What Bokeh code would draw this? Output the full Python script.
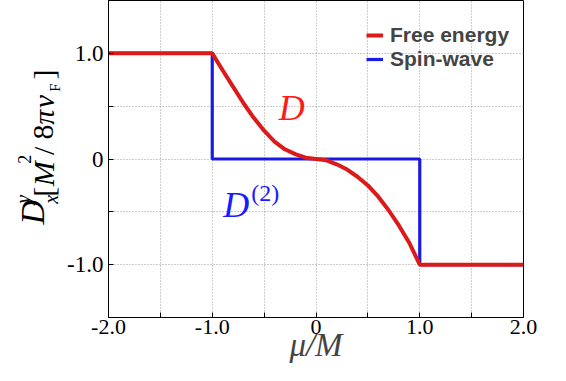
from bokeh.plotting import figure
from bokeh.models import Range1d, FixedTicker, Label, Legend, LegendItem
from bokeh.layouts import row
from bokeh.embed import file_html
from bokeh.resources import INLINE

# Free-energy result D (red)
mu_fe = [-2.0, -1.0, -0.9, -0.8, -0.7, -0.6, -0.5, -0.4, -0.3, -0.2, -0.1, 0.0,
         0.1, 0.2, 0.3, 0.4, 0.5, 0.6, 0.7, 0.8, 0.9, 1.0, 2.0]
d_fe = [1.0, 1.0, 0.84, 0.685, 0.53, 0.39, 0.268, 0.165, 0.092, 0.046, 0.012, 0.0,
        -0.012, -0.05, -0.10, -0.168, -0.25, -0.357, -0.485, -0.631, -0.795, -1.0, -1.0]

# Spin-wave result D^(2) (blue)
mu_sw = [-2.0, -1.0, -1.0, 1.0, 1.0, 2.0]
d_sw = [1.0, 1.0, 0.0, 0.0, -1.0, -1.0]

x_ticks = [-2.0, -1.5, -1.0, -0.5, 0.0, 0.5, 1.0, 1.5, 2.0]
x_tick_labels = ["-2.0", "", "-1.0", "", "0", "", "1.0", "", "2.0"]
y_ticks = [-1.5, -1.0, -0.5, 0.0, 0.5, 1.0, 1.5]
y_tick_labels = ["", "-1.0", "", "0", "", "1.0", ""]

series_names = ["Free energy", "Spin-wave"]

RED = "#dc1a1a"
BLUE = "#1a1ae6"
SERIF = "Liberation Serif"

# ---------------- main plot ----------------
p = figure(width=486, height=365, x_range=Range1d(-2.0, 2.0), y_range=Range1d(-1.5, 1.5),
           output_backend="svg", toolbar_location=None,
           min_border_left=43, min_border_right=27, min_border_top=0, min_border_bottom=0)
p.background_fill_color = "white"
p.border_fill_color = "white"
p.outline_line_color = "black"
p.outline_line_width = 1

for ax in p.axis:
    ax.major_tick_in = 5
    ax.major_tick_out = 0
    ax.minor_tick_line_color = None
    ax.axis_line_color = "black"
    ax.major_tick_line_color = "black"
    ax.major_label_text_font = SERIF
    ax.major_label_text_color = "black"

p.xaxis.major_label_text_font_size = "22px"
p.yaxis.major_label_text_font_size = "23px"
p.xaxis.ticker = FixedTicker(ticks=x_ticks)
p.xaxis.major_label_overrides = {t: l for t, l in zip(x_ticks, x_tick_labels)}
p.yaxis.ticker = FixedTicker(ticks=y_ticks)
p.yaxis.major_label_overrides = {t: l for t, l in zip(y_ticks, y_tick_labels)}

p.xaxis.major_label_standoff = 2
p.xaxis.axis_label = "μ/M"
p.xaxis.axis_label_text_font = SERIF
p.xaxis.axis_label_text_font_style = "italic"
p.xaxis.axis_label_text_font_size = "33px"
p.xaxis.axis_label_standoff = -10
p.yaxis.major_label_standoff = 5

p.xgrid.ticker = FixedTicker(ticks=x_ticks)
p.ygrid.ticker = FixedTicker(ticks=y_ticks)
p.grid.grid_line_color = "#9a9a9a"
p.grid.grid_line_dash = "1 2"
p.grid.grid_line_width = 1

r_blue = p.line(mu_sw, d_sw, line_color=BLUE, line_width=3.2)
r_red = p.line(mu_fe, d_fe, line_color=RED, line_width=4)

legend = Legend(items=[LegendItem(label=series_names[0], renderers=[r_red]),
                       LegendItem(label=series_names[1], renderers=[r_blue])],
                location=(258, 246))
legend.background_fill_alpha = 0
legend.border_line_color = None
legend.label_text_font = "Liberation Sans"
legend.label_text_font_style = "bold"
legend.label_text_font_size = "21px"
legend.glyph_width = 17
legend.label_standoff = 7
legend.spacing = 0
legend.padding = 0
legend.margin = 0
p.add_layout(legend)

# in-plot labels
p.add_layout(Label(x=-0.36, y=0.483, text="D", text_font=SERIF, text_font_style="italic",
                   text_font_size="36px", text_color="#ff1a1a", text_baseline="alphabetic"))
p.add_layout(Label(x=-0.894, y=-0.435, text="D", text_font=SERIF, text_font_style="italic",
                   text_font_size="36px", text_color="#1a1aff", text_baseline="alphabetic"))
p.add_layout(Label(x=-0.625, y=-0.325, text="(2)", text_font=SERIF,
                   text_font_size="24px", text_color="#1a1aff", text_baseline="alphabetic"))

# ---------------- y-axis label strip: D_x^y [M^2/8πv_F] ----------------
q = figure(width=64, height=365, x_range=Range1d(0, 64), y_range=Range1d(0, 365),
           output_backend="svg", toolbar_location=None,
           x_axis_location=None, y_axis_location=None,
           min_border_left=0, min_border_right=0, min_border_top=0, min_border_bottom=0)
q.outline_line_color = None
q.grid.visible = False
q.background_fill_color = "white"
q.border_fill_color = "white"

# (text, start position measured from the top in px, centre x in px, size, style)
pieces = [
    ("D", 258, 32, "34px", "italic"),
    ("x", 234, 50, "20px", "italic"),
    ("y", 234, 22, "20px", "italic"),
    ("[", 226, 43, "30px", "normal"),
    ("M", 214, 43, "30px", "italic"),
    ("2", 188, 24, "18px", "normal"),
    ("/", 178, 43, "30px", "normal"),
    ("8", 160, 43, "30px", "normal"),
    ("π", 143, 43, "30px", "italic"),
    ("v", 124, 43, "30px", "italic"),
    ("F", 105, 54, "15px", "normal"),
    ("]", 91, 43, "30px", "normal"),
]
for txt, py, px, fs, style in pieces:
    q.add_layout(Label(x=px, y=365 - py, text=txt, angle=1.5707963, text_font=SERIF,
                       text_font_style=style, text_font_size=fs, text_color="black",
                       text_align="left", text_baseline="middle"))

layout = row(q, p)
open("out.html", "w").write(file_html(layout, INLINE))
